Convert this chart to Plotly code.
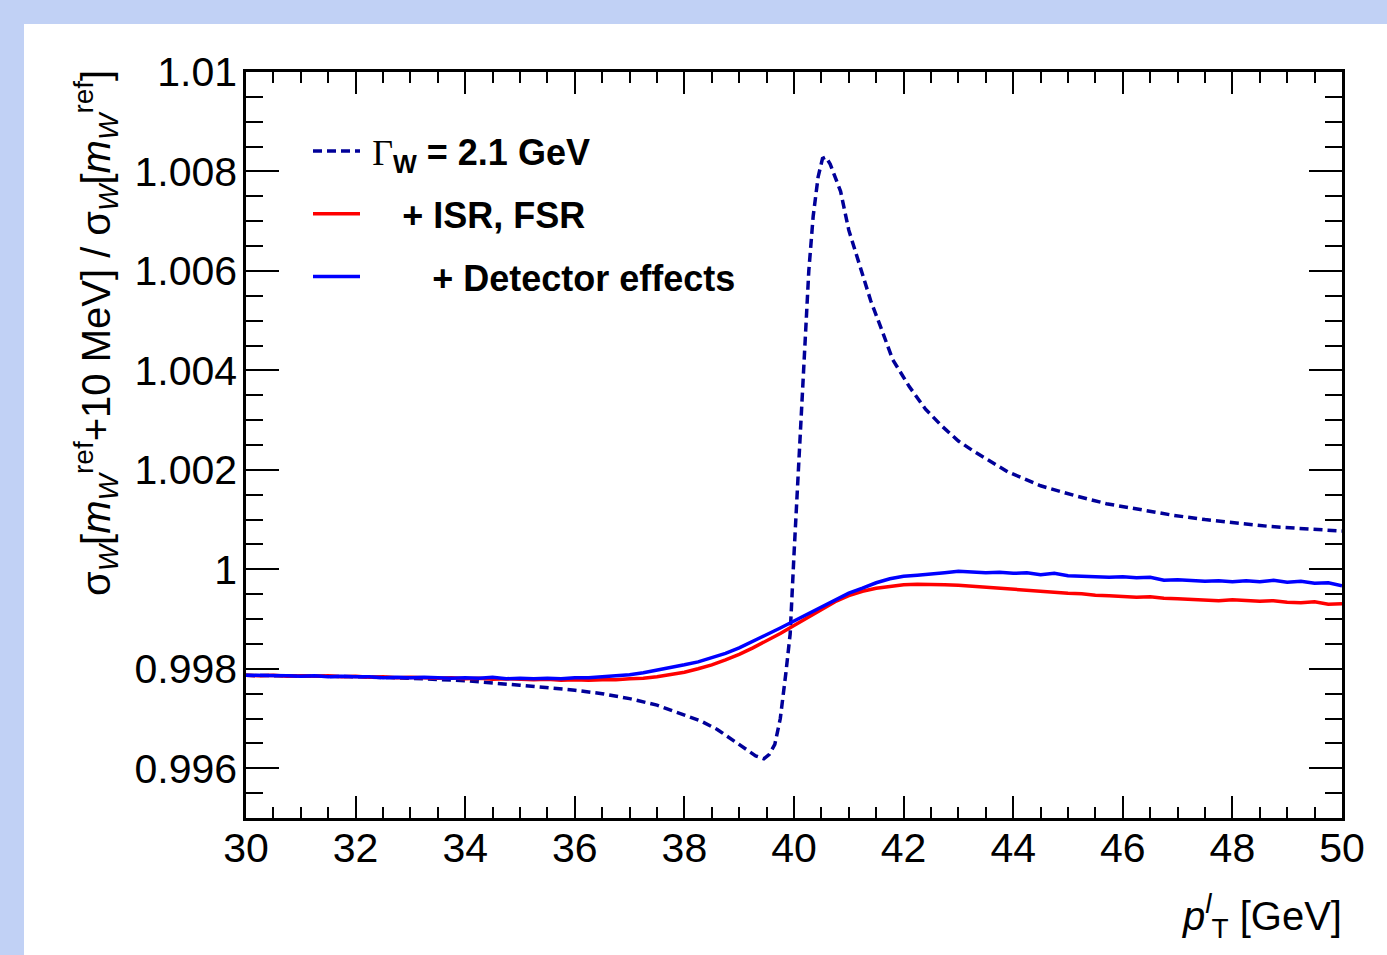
import plotly.graph_objects as go

# Lepton transverse momentum grid (GeV) for the smeared curves
pt_bins = [30 + 0.25 * i for i in range(81)]

# Ratio sigma_W[m_W^ref + 10 MeV] / sigma_W[m_W^ref], Gamma_W = 2.1 GeV only
pt_gamma = [30, 31, 32, 33, 34, 35, 36, 36.5, 37, 37.5, 38, 38.3, 38.6, 38.9, 39.1,
            39.3, 39.45, 39.55, 39.65, 39.75, 39.85, 39.93, 40.0, 40.06, 40.13, 40.2,
            40.27, 40.35, 40.44, 40.52, 40.58, 40.66, 40.75, 40.85, 41.0, 41.2, 41.4,
            41.6, 41.8, 42.1, 42.4, 42.7, 43.0, 43.3, 43.9, 44.5, 45.1, 45.7, 46.3,
            46.9, 47.5, 48.1, 48.7, 49.4, 50]
ratio_gamma = [0.99787, 0.99786, 0.99784, 0.99781, 0.99776, 0.99767, 0.99757, 0.99750,
               0.99740, 0.99727, 0.99708, 0.99695, 0.99678, 0.99656, 0.99640, 0.99625,
               0.99619, 0.99628, 0.99648, 0.99700, 0.99790, 0.99870, 1.00030, 1.00160,
               1.00300, 1.00460, 1.00600, 1.00710, 1.00789, 1.00826, 1.00829, 1.00815,
               1.00790, 1.00760, 1.00682, 1.00608, 1.00540, 1.00482, 1.00422, 1.00368,
               1.00322, 1.00288, 1.00258, 1.00236, 1.00196, 1.00168, 1.00149, 1.00132,
               1.00120, 1.00109, 1.00100, 1.00093, 1.00086, 1.00081, 1.00077]

# + ISR, FSR
ratio_isr_fsr = [0.99787, 0.99786, 0.99787, 0.99785, 0.99786, 0.99785, 0.99786, 0.99784,
                 0.99785, 0.99783, 0.99784, 0.99782, 0.99783, 0.99782, 0.99781, 0.99782,
                 0.99780, 0.99781, 0.99779, 0.99780, 0.99779, 0.99778, 0.99779, 0.99777,
                 0.99778, 0.99777, 0.99778, 0.99778, 0.99780, 0.99781, 0.99784, 0.99788,
                 0.99793, 0.99800, 0.99808, 0.99818, 0.99829, 0.99842, 0.99856, 0.99871,
                 0.99887, 0.99903, 0.99920, 0.99935, 0.99947, 0.99956, 0.99962, 0.99966,
                 0.99969, 0.99970, 0.99970, 0.99969, 0.99968, 0.99966, 0.99963, 0.99961,
                 0.99960, 0.99957, 0.99955, 0.99954, 0.99952, 0.99951, 0.99948, 0.99947,
                 0.99946, 0.99944, 0.99945, 0.99942, 0.99941, 0.99940, 0.99938, 0.99937,
                 0.99939, 0.99938, 0.99936, 0.99937, 0.99934, 0.99933, 0.99935, 0.99930,
                 0.99931]

# + Detector effects
ratio_detector = [0.99787, 0.99787, 0.99786, 0.99786, 0.99785, 0.99786, 0.99784, 0.99785,
                  0.99784, 0.99784, 0.99782, 0.99783, 0.99782, 0.99783, 0.99782, 0.99781,
                  0.99782, 0.99781, 0.99783, 0.99780, 0.99781, 0.99780, 0.99781, 0.99780,
                  0.99782, 0.99782, 0.99784, 0.99786, 0.99788, 0.99792, 0.99797, 0.99803,
                  0.99808, 0.99814, 0.99822, 0.99831, 0.99842, 0.99855, 0.99868, 0.99882,
                  0.99896, 0.99910, 0.99925, 0.99939, 0.99952, 0.99962, 0.99973, 0.99981,
                  0.99986, 0.99988, 0.99990, 0.99993, 0.99996, 0.99995, 0.99993, 0.99994,
                  0.99992, 0.99993, 0.99989, 0.99992, 0.99987, 0.99986, 0.99985, 0.99984,
                  0.99985, 0.99983, 0.99984, 0.99978, 0.99979, 0.99978, 0.99976, 0.99977,
                  0.99975, 0.99977, 0.99975, 0.99978, 0.99974, 0.99976, 0.99972, 0.99973,
                  0.99967]

x_tickvals = [30, 32, 34, 36, 38, 40, 42, 44, 46, 48, 50]
x_ticktext = ["30", "32", "34", "36", "38", "40", "42", "44", "46", "48", "50"]
y_tickvals = [0.996, 0.998, 1.0, 1.002, 1.004, 1.006, 1.008, 1.01]
y_ticktext = ["0.996", "0.998", "1", "1.002", "1.004", "1.006", "1.008", "1.01"]

FONT = "Liberation Sans, Arial, Helvetica, sans-serif"
W, H = 1387, 955
L, R, T, B = 246, 45, 72, 137
pw, ph = W - L - R, H - T - B


def px_x(p):
    return (p - L) / pw


def px_y(p):
    return (H - B - p) / ph


fig = go.Figure()

fig.add_trace(go.Scatter(
    x=pt_gamma, y=ratio_gamma, mode="lines",
    line=dict(color="#000099", width=3.5, dash="9px,5px"),
    name="\u2009<span style=\"font-family:'Liberation Serif';font-weight:normal\">\u0393</span>"
         "<sub>W</sub> = 2.1 GeV",
    legendgroup="a",
))
fig.add_trace(go.Scatter(
    x=pt_bins, y=ratio_isr_fsr, mode="lines",
    line=dict(color="#ff0000", width=3.5),
    name="\u2009\u00a0\u00a0\u00a0+ ISR, FSR",
    legendgroup="b",
))
fig.add_trace(go.Scatter(
    x=pt_bins, y=ratio_detector, mode="lines",
    line=dict(color="#0000ff", width=3.5),
    name="\u2009\u00a0\u00a0\u00a0\u00a0\u00a0\u00a0+ Detector effects",
    legendgroup="c",
))

axis_common = dict(
    showline=True, linecolor="black", linewidth=2.5, mirror="ticks",
    ticks="inside", tickcolor="black", tickwidth=2,
    showgrid=False, zeroline=False,
    tickfont=dict(family=FONT, size=41, color="black"),
)

fig.update_xaxes(
    range=[30, 50], tickmode="array", tickvals=x_tickvals, ticktext=x_ticktext,
    ticklen=22, ticklabelstandoff=-8,
    minor=dict(ticks="inside", ticklen=11, tickwidth=2, tickcolor="black",
               dtick=0.5, tick0=30, showgrid=False),
    **axis_common,
)
fig.update_yaxes(
    range=[0.995, 1.01], tickmode="array", tickvals=y_tickvals, ticktext=y_ticktext,
    ticklen=33, ticklabelstandoff=-2,
    minor=dict(ticks="inside", ticklen=17, tickwidth=2, tickcolor="black",
               dtick=0.0005, tick0=0.995, showgrid=False),
    **axis_common,
)

# white canvas on the light-blue page
fig.add_shape(type="rect", xref="paper", yref="paper",
              x0=px_x(24), x1=px_x(W + 10), y0=px_y(H + 10), y1=px_y(24),
              fillcolor="white", line=dict(width=0), layer="below")

fig.add_annotation(
    xref="paper", yref="paper", x=px_x(96), y=px_y(68),
    xanchor="center", yanchor="top", textangle=-90, showarrow=False,
    text="\u03c3<sub><i>W</i></sub>[<i>m</i><sub><i>W</i></sub><sup>ref</sup>+10 MeV] / "
         "\u03c3<sub><i>W</i></sub>[<i>m</i><sub><i>W</i></sub><sup>ref</sup>]",
    font=dict(family=FONT, size=40, color="black"),
)
fig.add_annotation(
    xref="paper", yref="paper", x=px_x(1344), y=px_y(916),
    xanchor="right", yanchor="middle", showarrow=False,
    text="<i>p</i><sup><i>l</i></sup><sub>T</sub> [GeV]",
    font=dict(family=FONT, size=40, color="black"),
)

fig.update_layout(
    width=W, height=H,
    margin=dict(l=L, r=R, t=T, b=B, pad=0),
    paper_bgcolor="#c1d1f5",
    plot_bgcolor="rgba(0,0,0,0)",
    showlegend=True,
    legend=dict(
        x=px_x(308), y=px_y(121), xanchor="left", yanchor="top",
        bgcolor="rgba(0,0,0,0)", borderwidth=0,
        font=dict(family=FONT, size=36, color="black", weight="bold"),
        tracegroupgap=13, itemwidth=47,
    ),
)

fig.write_html("out.html")
